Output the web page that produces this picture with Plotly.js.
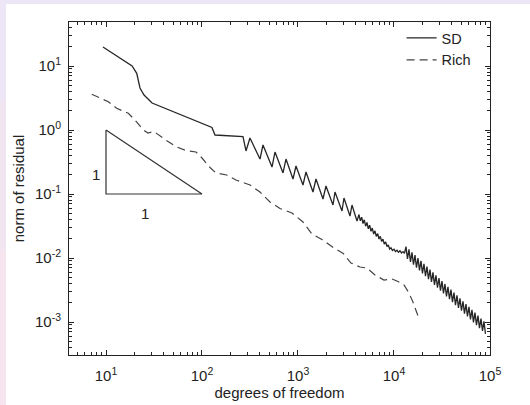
<!DOCTYPE html>
<html>
<head>
<meta charset="utf-8">
<script src="https://cdn.plot.ly/plotly-3.0.1.min.js"></script>
<style>html,body{margin:0;padding:0;background:#fff;}#chart{width:530px;height:405px;}</style>
</head>
<body>
<div id="chart"></div>
<script>
// SD (steepest descent) residual: smooth head, flat step, saw-tooth, fine zigzag, dense band
const sdHeadX = [9.3, 18.7, 20.9, 22.6, 24.9, 30.2, 127, 136.6, 267.4];
const sdHeadY = [19.8, 10.0, 7.69, 4.53, 3.52, 2.64, 1.094, 0.835, 0.791];
const sdSawX = [287.3, 316.2, 402.0, 432.0, 536.2, 576.1, 698.2, 749.9, 887.2, 953.2, 1127, 1212, 1433, 1540, 1822, 1957, 2315, 2429, 2873, 3014, 3481, 3652, 4118];
const sdSawY = [0.470, 0.750, 0.352, 0.583, 0.264, 0.453, 0.213, 0.352, 0.1715, 0.274, 0.1382, 0.2207, 0.1075, 0.1715, 0.0835, 0.1334, 0.0673, 0.1075, 0.0543, 0.0866, 0.0453, 0.0673, 0.0379];
const sdFineX = [4320, 4457, 4609, 4755, 4905, 5073, 5234, 5399, 5584, 5761, 5943, 6144, 6340, 6540, 6765, 6980, 7200, 7445, 7680, 7925, 8195, 8455, 8720, 9020, 9307, 9647, 10000, 10366, 10746, 11140, 11548, 11971, 12409, 12864];
const sdFineY = [0.0478, 0.0381, 0.0434, 0.0346, 0.0395, 0.0314, 0.0359, 0.0286, 0.0325, 0.0261, 0.0294, 0.0237, 0.0266, 0.0217, 0.0241, 0.0198, 0.0218, 0.0181, 0.0197, 0.0165, 0.0178, 0.0151, 0.0160, 0.0138, 0.0144, 0.0131, 0.0137, 0.0126, 0.0132, 0.0123, 0.0130, 0.0120, 0.0126, 0.0118];
const sdBandX = [13335, 13824, 14330, 14855, 15399, 15963, 16548, 17154, 17783, 18434, 19110, 19810, 20535, 21287, 22067, 22876, 23714, 24582, 25483, 26416, 27384, 28387, 29427, 30505, 31623, 32781, 33982, 35227, 36517, 37855, 39242, 40680, 42170, 43715, 45316, 46976, 48697, 50481, 52330, 54247, 56234, 58294, 60430, 62643, 64938, 67317, 69783, 72339, 74989, 77736, 80584, 83536, 86596, 89768];
const sdBandY = [0.0151, 0.00967, 0.01364, 0.00871, 0.01229, 0.00786, 0.01108, 0.00709, 0.00999, 0.00639, 0.00901, 0.00576, 0.00812, 0.00519, 0.00732, 0.00468, 0.00660, 0.00422, 0.00595, 0.00380, 0.00537, 0.00343, 0.00484, 0.00309, 0.00436, 0.00279, 0.00393, 0.00251, 0.00355, 0.00227, 0.00320, 0.00204, 0.00288, 0.00184, 0.00260, 0.00166, 0.00234, 0.00150, 0.00211, 0.00135, 0.00190, 0.00122, 0.00172, 0.00110, 0.00155, 0.000989, 0.00140, 0.000892, 0.00126, 0.000804, 0.00113, 0.000725, 0.00102, 0.000654];

// Rich residual
const richX = [7.10, 10.57, 12.93, 17.07, 20.05, 24.46, 27.38, 31.62, 41.18, 54.51, 68.13, 86.60, 100, 121.2, 139.9, 180.8, 226.1, 316.2, 402, 510.9, 649.4, 866, 1127, 1399, 1778, 2332, 2964, 3565, 4424, 5233, 6340, 7866, 9532, 11010, 12714, 14330, 15770, 17154, 18210];
const richY = [3.61, 2.77, 2.18, 1.824, 1.433, 1.0, 0.898, 0.947, 0.710, 0.543, 0.478, 0.453, 0.365, 0.2594, 0.2128, 0.198, 0.1655, 0.1382, 0.1075, 0.0750, 0.0593, 0.0505, 0.0365, 0.0237, 0.01945, 0.01459, 0.01176, 0.00835, 0.00723, 0.00698, 0.00543, 0.00453, 0.00470, 0.00429, 0.00379, 0.00284, 0.00205, 0.00149, 0.001134];

// slope triangle
const triX = [10, 10, 100, 10];
const triY = [1, 0.1, 0.1, 1];

const seriesNames = ['SD', 'Rich'];
const xTickVals = [10, 100, 1000, 10000, 100000];
const xTickText = ['10<sup>1</sup>', '10<sup>2</sup>', '10<sup>3</sup>', '10<sup>4</sup>', '10<sup>5</sup>'];
const yTickVals = [0.001, 0.01, 0.1, 1, 10];
const yTickText = ['10<sup>-3</sup>', '10<sup>-2</sup>', '10<sup>-1</sup>', '10<sup>0</sup>', '10<sup>1</sup>'];

const sdX = sdHeadX.concat(sdSawX, sdFineX, sdBandX);
const sdY = sdHeadY.concat(sdSawY, sdFineY, sdBandY);

const ink = '#222';
const traces = [
  {x: sdX, y: sdY, name: seriesNames[0], type: 'scatter', mode: 'lines',
   line: {color: '#262626', width: 1.3}},
  {x: richX, y: richY, name: seriesNames[1], type: 'scatter', mode: 'lines',
   line: {color: '#444', width: 1.2, dash: '8px,5px'}},
  {x: triX, y: triY, type: 'scatter', mode: 'lines', showlegend: false, hoverinfo: 'skip',
   line: {color: '#333', width: 1.2}}
];

const axisCommon = {
  type: 'log', tickmode: 'array', ticks: 'inside', ticklen: 5, tickwidth: 1, tickcolor: ink,
  showline: true, linecolor: ink, linewidth: 1, mirror: 'allticks',
  showgrid: false, zeroline: false, tickfont: {size: 15, color: ink},
  minor: {ticks: 'inside', ticklen: 3, dtick: 'D1', tickcolor: ink, tickwidth: 1, showgrid: false}
};

const lx = -69 / 421, rx = 461 / 421;
const layout = {
  width: 530, height: 405,
  margin: {l: 69, r: 40, t: 22, b: 50},
  paper_bgcolor: '#ffffff', plot_bgcolor: '#ffffff',
  font: {family: '"Liberation Sans", Arial, sans-serif', size: 14, color: ink},
  showlegend: true,
  xaxis: Object.assign({}, axisCommon, {
    range: [0.6146, 5.0003], tickvals: xTickVals, ticktext: xTickText, ticklabelstandoff: 7,
    title: {text: 'degrees of freedom', font: {size: 15, color: ink}, standoff: 3}
  }),
  yaxis: Object.assign({}, axisCommon, {
    range: [-3.5156, 1.6875], tickvals: yTickVals, ticktext: yTickText, ticklabelstandoff: 4,
    title: {text: 'norm of residual', font: {size: 15, color: ink}, standoff: 6}
  }),
  legend: {x: 0.79, y: 1.0, xanchor: 'left', yanchor: 'top', bgcolor: 'rgba(0,0,0,0)',
    borderwidth: 0, font: {size: 14.5, color: ink}, tracegroupgap: 0},
  annotations: [
    {x: Math.log10(7.9), y: Math.log10(0.2), xref: 'x', yref: 'y', text: '1', showarrow: false, font: {size: 15, color: ink}},
    {x: Math.log10(25.5), y: Math.log10(0.05), xref: 'x', yref: 'y', text: '1', showarrow: false, font: {size: 15, color: ink}}
  ],
  shapes: [
    {type: 'rect', xref: 'paper', yref: 'paper', x0: lx, x1: rx, y0: 351 / 333, y1: 355 / 333, fillcolor: '#ebe6f6', line: {width: 0}},
    {type: 'rect', xref: 'paper', yref: 'paper', x0: lx, x1: lx + 6 / 421, y0: 255 / 333, y1: 355 / 333, fillcolor: '#ece6f6', line: {width: 0}},
    {type: 'rect', xref: 'paper', yref: 'paper', x0: lx, x1: lx + 6 / 421, y0: 105 / 333, y1: 255 / 333, fillcolor: '#f1e5f2', line: {width: 0}},
    {type: 'rect', xref: 'paper', yref: 'paper', x0: lx, x1: lx + 6 / 421, y0: -50 / 333, y1: 105 / 333, fillcolor: '#f6e4ee', line: {width: 0}}
  ]
};

Plotly.newPlot('chart', traces, layout, {displayModeBar: false, staticPlot: true});
</script>
</body>
</html>
